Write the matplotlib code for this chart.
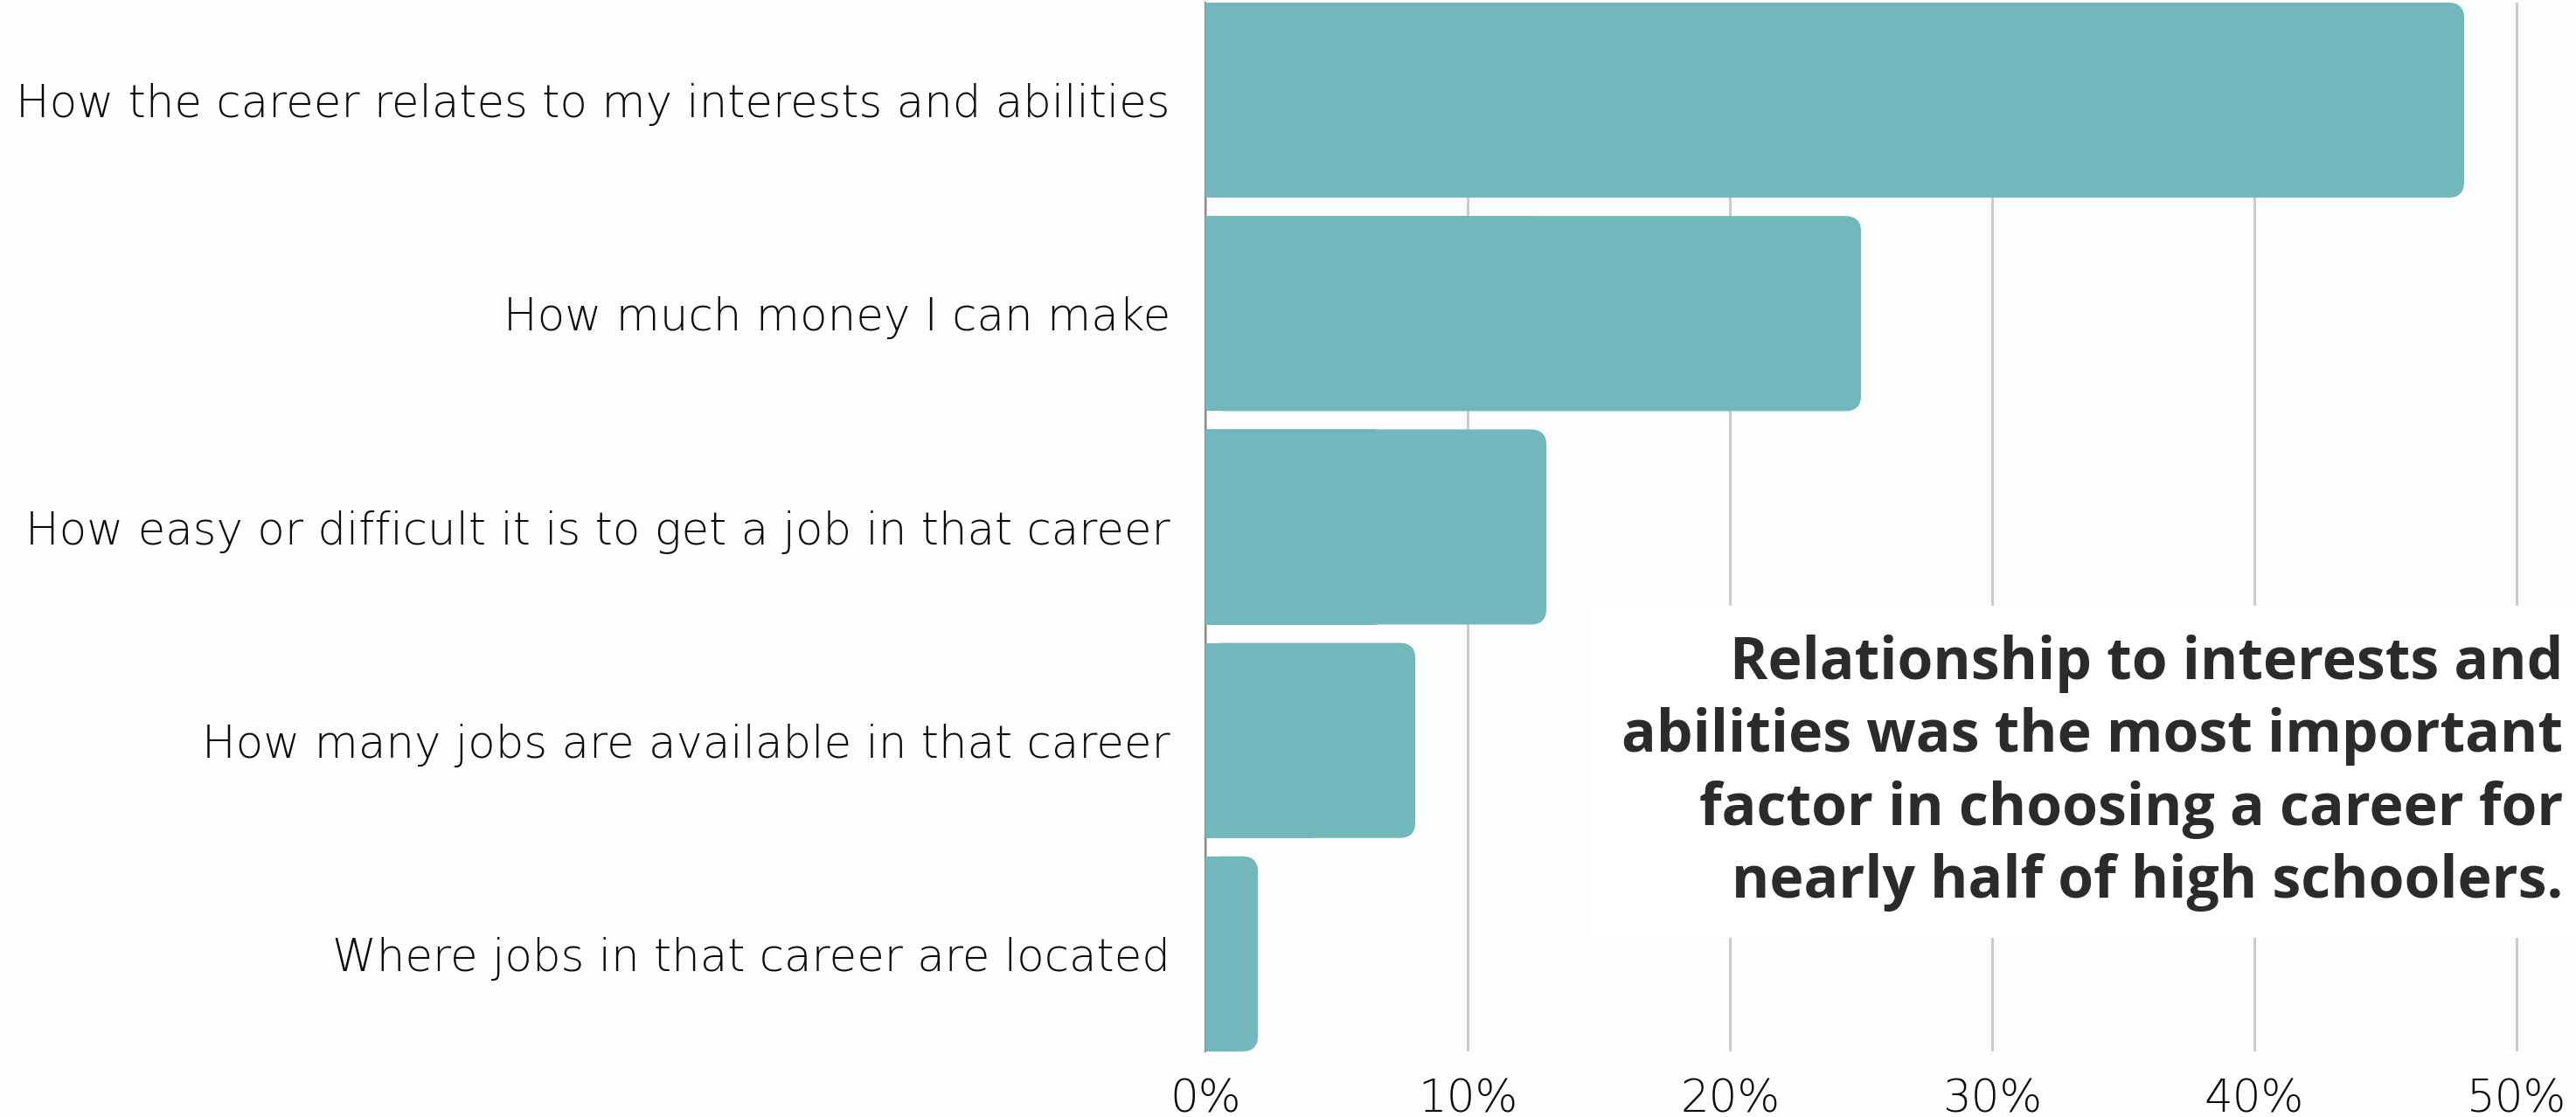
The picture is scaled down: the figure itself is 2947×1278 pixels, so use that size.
import matplotlib
matplotlib.use("Agg")
import matplotlib.pyplot as plt
from matplotlib.patches import FancyBboxPatch, Rectangle

factors = [
    "How the career relates to my interests and abilities",
    "How much money I can make",
    "How easy or difficult it is to get a job in that career",
    "How many jobs are available in that career",
    "Where jobs in that career are located",
]
shares = [48, 25, 13, 8, 2]
ticks = [0, 10, 20, 30, 40, 50]
tick_labels = ["0%", "10%", "20%", "30%", "40%", "50%"]
note = ("Relationship to interests and\n"
        "abilities was the most important\n"
        "factor in choosing a career for\n"
        "nearly half of high schoolers.")

bar_color = "#71b7bb"
text_color = "#0a0a0a"

plt.rcParams['font.family'] = ['Open Sans', 'DejaVu Sans']

fig = plt.figure(figsize=(29.47, 12.78), dpi=100, facecolor="#fdfdfd")
ax = fig.add_axes([0.468, 0.0587, 0.512, 0.939])
ax.set_facecolor("#fdfdfd")

ypos = list(range(len(factors)))
h = 0.914
bars = ax.barh(ypos, shares, height=h, color=bar_color, zorder=3)

# rounded right corners: approximate aspect between x and y units
ax.set_xlim(0, 50.3)
ax.set_ylim(len(factors) - 1 + h / 2, -h / 2)
fig.canvas.draw()
px_x = ax.transData.transform((1, 0))[0] - ax.transData.transform((0, 0))[0]
px_y = abs(ax.transData.transform((0, 1))[1] - ax.transData.transform((0, 0))[1])
asp = px_x / px_y
r = 0.6
for b in bars:
    b.set_visible(False)
    x0, y0 = b.get_x(), b.get_y()
    w, hh = b.get_width(), b.get_height()
    ax.add_patch(FancyBboxPatch((x0, y0), w, hh,
                                boxstyle=f"round,pad=0,rounding_size={r}",
                                mutation_aspect=asp, fc=bar_color, ec="none", zorder=3))
    ax.add_patch(Rectangle((x0, y0), w / 2, hh, fc=bar_color, ec="none", zorder=3))

lab_font = dict(family=['DejaVu Sans'], weight="light", size=37)
ax.set_yticks(ypos)
ax.set_yticklabels(factors, color=text_color, fontdict=lab_font)
ax.set_xticks(ticks)
ax.set_xticklabels(tick_labels, color=text_color, fontdict=lab_font)
ax.tick_params(axis="both", length=0)
ax.tick_params(axis="y", pad=29)
ax.tick_params(axis="x", pad=22)

ax.grid(axis="x", color="#c8c8c8", linewidth=2, zorder=0)
ax.set_axisbelow(True)
for s in ["top", "right", "bottom"]:
    ax.spines[s].set_visible(False)
ax.spines["left"].set_color("#888888")
ax.spines["left"].set_linewidth(1.5)

# white box behind the note
fig.patches.append(Rectangle((0.6176, 0.1604), 0.3824, 0.2973, transform=fig.transFigure,
                             fc="white", ec="none", zorder=5))
fig.text(0.9949, 0.308, note, ha="right", va="center", fontsize=47.5,
         fontweight="bold", color="#2b2b2b", linespacing=1.32, zorder=6)

fig.savefig("out.png", dpi=100, facecolor=fig.get_facecolor())
